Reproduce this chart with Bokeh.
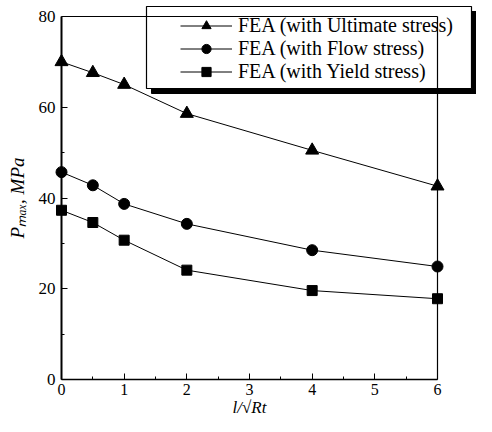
from bokeh.plotting import figure
from bokeh.models import (Legend, LegendItem, Range1d, ColumnDataSource, LinearAxis,
                          FixedTicker)
from bokeh.embed import file_html
from bokeh.resources import INLINE

x_vals = [0, 0.5, 1, 2, 4, 6]
ultimate = [70.0, 67.6, 65.0, 58.6, 50.5, 42.6]
flow = [45.7, 42.8, 38.7, 34.3, 28.5, 24.9]
yield_s = [37.3, 34.6, 30.7, 24.1, 19.6, 17.8]
labels = ["FEA (with Ultimate stress)", "FEA (with Flow stress)", "FEA (with Yield stress)"]
x_ticks = [0, 1, 2, 3, 4, 5, 6]
x_minor = [0.5, 1.5, 2.5, 3.5, 4.5, 5.5]
y_ticks = [0, 20, 40, 60, 80]
y_minor = [10, 30, 50, 70]

SERIF = "Liberation Serif"
W, H = 476, 416
# position of the data box inside the figure (pixels)
FL, FR, FT, FB = 61, 437, 16, 379
xs = (FR - FL) / 6.0
ys = (FB - FT) / 80.0

def px2x(px):
    return (px - FL) / xs

def px2y(py):
    return (FB - py) / ys

p = figure(width=W, height=H, output_backend="svg", toolbar_location=None,
           x_range=Range1d(px2x(0), px2x(W)),
           y_range=Range1d(px2y(H), px2y(0)),
           min_border=0, min_border_left=0, min_border_right=0,
           min_border_top=0, min_border_bottom=0,
           x_axis_location=None, y_axis_location=None)
p.grid.visible = False
p.outline_line_color = None
p.background_fill_color = "white"
p.border_fill_color = "white"

xax = LinearAxis(fixed_location=0, bounds=(0, 6),
                 ticker=FixedTicker(ticks=x_ticks, minor_ticks=x_minor),
                 axis_label="l/\u221aRt")
yax = LinearAxis(fixed_location=0, bounds=(0, 80),
                 ticker=FixedTicker(ticks=y_ticks, minor_ticks=y_minor),
                 axis_label="P\u2098\u2090\u2093, MPa")
for ax in (xax, yax):
    ax.axis_line_color = "black"
    ax.major_tick_in = 6
    ax.major_tick_out = 0
    ax.minor_tick_in = 3
    ax.minor_tick_out = 0
    ax.major_tick_line_color = "black"
    ax.minor_tick_line_color = "black"
    ax.major_label_text_font = SERIF
    ax.major_label_text_font_size = "17px"
    ax.major_label_text_color = "black"
    ax.axis_label_text_font = SERIF
    ax.axis_label_text_font_style = "italic"
    ax.axis_label_text_font_size = "19px"
    ax.axis_label_text_color = "black"
xax.axis_line_width = 1.5
yax.axis_line_width = 2
xax.major_label_text_font_size = "16px"
xax.axis_label_text_font_size = "17px"
xax.major_label_standoff = 4
xax.axis_label_standoff = 0
yax.major_label_standoff = 6
yax.axis_label_standoff = 8
p.add_layout(xax, "below")
p.add_layout(yax, "left")

# top and right edges of the data box
tax = LinearAxis(fixed_location=80, bounds=(0, 6), ticker=FixedTicker(ticks=[]),
                 major_label_text_font_size="0px", axis_line_width=1.2, axis_line_color="black",
                 major_tick_line_color=None, minor_tick_line_color=None)
rax = LinearAxis(fixed_location=6, bounds=(0, 80), ticker=FixedTicker(ticks=[]),
                 major_label_text_font_size="0px", axis_line_width=1.2, axis_line_color="black",
                 major_tick_line_color=None, minor_tick_line_color=None)
p.add_layout(tax, "above")
p.add_layout(rax, "right")

src = ColumnDataSource(dict(x=x_vals, u=ultimate, f=flow, y=yield_s))

l1 = p.line("x", "u", source=src, line_color="black", line_width=1)
m1 = p.scatter("x", "u", source=src, marker="triangle", size=13, color="black")
l2 = p.line("x", "f", source=src, line_color="black", line_width=1)
m2 = p.scatter("x", "f", source=src, marker="circle", size=11, color="black")
l3 = p.line("x", "y", source=src, line_color="black", line_width=1)
m3 = p.scatter("x", "y", source=src, marker="square", size=10, color="black")

# legend frame with a drop shadow: the shadow is two solid strips
bl, bt, br, bb = 146, 6, 471, 88
sh = 5
p.quad(left=[px2x(bl + sh), px2x(br)], right=[px2x(br + sh), px2x(br + sh)],
       top=[px2y(bb), px2y(bt + sh)], bottom=[px2y(bb + sh), px2y(bb + sh)],
       fill_color="#000000", fill_alpha=1.0, line_color="#000000", line_width=1)
p.quad(left=[px2x(bl)], right=[px2x(br)], top=[px2y(bt)], bottom=[px2y(bb)],
       fill_color="white", line_color="black", line_width=1.2)

row_h = 23
front_left = 180
front_top = 48 - 1.5 * row_h
front = Legend(items=[LegendItem(label=labels[0], renderers=[l1, m1]),
                      LegendItem(label=labels[1], renderers=[l2, m2]),
                      LegendItem(label=labels[2], renderers=[l3, m3])],
               location=(front_left, H - (front_top + 3 * row_h)),
               padding=0, margin=0, spacing=0,
               glyph_width=52, glyph_height=row_h, label_standoff=6, label_height=row_h,
               background_fill_alpha=0, border_line_color=None,
               label_text_font=SERIF, label_text_font_size="20px", label_text_color="black")
p.add_layout(front, "center")

open("out.html", "w").write(file_html(p, INLINE))
